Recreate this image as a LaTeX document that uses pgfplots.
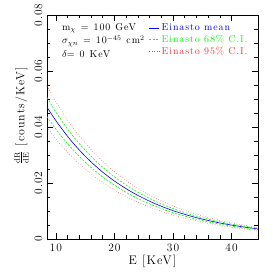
\documentclass[border=0pt]{standalone}
\usepackage{fontspec}
\setmainfont{Latin Modern Roman}[LetterSpace=9]
\usepackage{pgfplots}
\usepackage{pgfplotstable}
\pgfplotsset{compat=1.18}
\pgfplotstableread{
E     m       gu      gl      ru      rl
8.5   0.04710 0.05049 0.04371 0.05464 0.03980
10    0.04232 0.04537 0.03927 0.04909 0.03576
12    0.03668 0.03932 0.03404 0.04255 0.03099
14    0.03180 0.03409 0.02951 0.03689 0.02687
16    0.02757 0.02956 0.02558 0.03198 0.02330
18    0.02389 0.02561 0.02217 0.02771 0.02019
20    0.02071 0.02220 0.01922 0.02402 0.01750
22    0.01796 0.01925 0.01667 0.02083 0.01518
24    0.01557 0.01669 0.01445 0.01806 0.01316
26    0.01349 0.01446 0.01252 0.01565 0.01140
28    0.01170 0.01254 0.01086 0.01357 0.00989
30    0.01014 0.01087 0.00941 0.01176 0.00857
32    0.00879 0.00942 0.00816 0.01020 0.00743
34    0.00762 0.00817 0.00707 0.00884 0.00644
36    0.00661 0.00709 0.00613 0.00767 0.00559
38    0.00573 0.00614 0.00532 0.00665 0.00484
40    0.00496 0.00532 0.00460 0.00575 0.00419
42    0.00430 0.00461 0.00399 0.00499 0.00363
44.5  0.00360 0.00386 0.00334 0.00418 0.00304
}\data
\begin{document}
\begin{tikzpicture}
\begin{axis}[
  scale only axis, width=211bp, height=224bp,
  xmin=8.5, xmax=44.5, ymin=0, ymax=0.08,
  xtick={10,20,30,40}, ytick={0,0.02,0.04,0.06,0.08},
  yticklabels={0,0.02,0.04,0.06,0.08},
  scaled y ticks=false,
  /pgf/number format/assume math mode=true,
  minor x tick num=4, minor y tick num=3,
  tick align=inside, tick pos=both,
  major tick length=6bp, minor tick length=3.5bp,
  every tick/.style={black, line width=0.5pt},
  axis line style={line width=0.7pt},
  tick label style={font=\fontsize{11.5}{13}\selectfont},
  yticklabel style={rotate=90, anchor=south, yshift=1bp},
  xticklabel style={yshift=-1bp},
  xlabel={E [KeV]}, xlabel style={font=\fontsize{12.5}{14}\selectfont, yshift=3bp},
  ylabel={$\frac{\mathrm{dR}}{\mathrm{dE}}$ [counts/KeV]},
  ylabel style={font=\fontsize{12}{14}\selectfont, at={(ticklabel cs:0.55)}, yshift=-1bp},
  legend style={draw=none, fill=none, at={(rel axis cs:0.965,0.975)}, anchor=north east,
    font=\fontsize{10}{12}\selectfont, row sep=-1bp, inner sep=1bp},
  legend cell align=left,
  legend image code/.code={\path (0bp,0bp) -- (10bp,0bp);\draw[#1] (0bp,0bp) -- (5.5bp,0bp);},
]
\addplot[blue, line width=0.6pt, smooth] table[x=E,y=m]{\data};
\addlegendentry{\textcolor{blue}{Einasto mean}}
\addplot[green, line width=0.6pt, dash pattern=on 2pt off 1.5pt, smooth] table[x=E,y=gu]{\data};
\addlegendentry{\textcolor{green}{Einasto 68\% C.I.}}
\addplot[green, line width=0.6pt, dash pattern=on 2pt off 1.5pt, smooth, forget plot] table[x=E,y=gl]{\data};
\addplot[red!80, line width=0.5pt, dotted, smooth] table[x=E,y=ru]{\data};
\addlegendentry{\textcolor{red!80}{Einasto 95\% C.I.}}
\addplot[red!80, line width=0.5pt, dotted, smooth, forget plot] table[x=E,y=rl]{\data};
\node[anchor=base west, font=\fontsize{10}{12}\selectfont] at (rel axis cs:0.055,0.933) {m$_\chi$\hspace{5bp}=\hspace{5bp}100\hspace{5bp}GeV};
\node[anchor=base west, font=\fontsize{10}{12}\selectfont] at (rel axis cs:0.055,0.872) {$\sigma_{\chi n}$\hspace{5bp}=\hspace{5bp}10$^{-45}$\hspace{5bp}cm$^2$};
\node[anchor=base west, font=\fontsize{10}{12}\selectfont] at (rel axis cs:0.055,0.81) {$\delta$=\hspace{5bp}0\hspace{5bp}KeV};
\end{axis}
\useasboundingbox (current axis.south west) ++(-47bp,-34bp) rectangle ([shift={(15bp,15bp)}]current axis.north east);
\end{tikzpicture}
\end{document}
